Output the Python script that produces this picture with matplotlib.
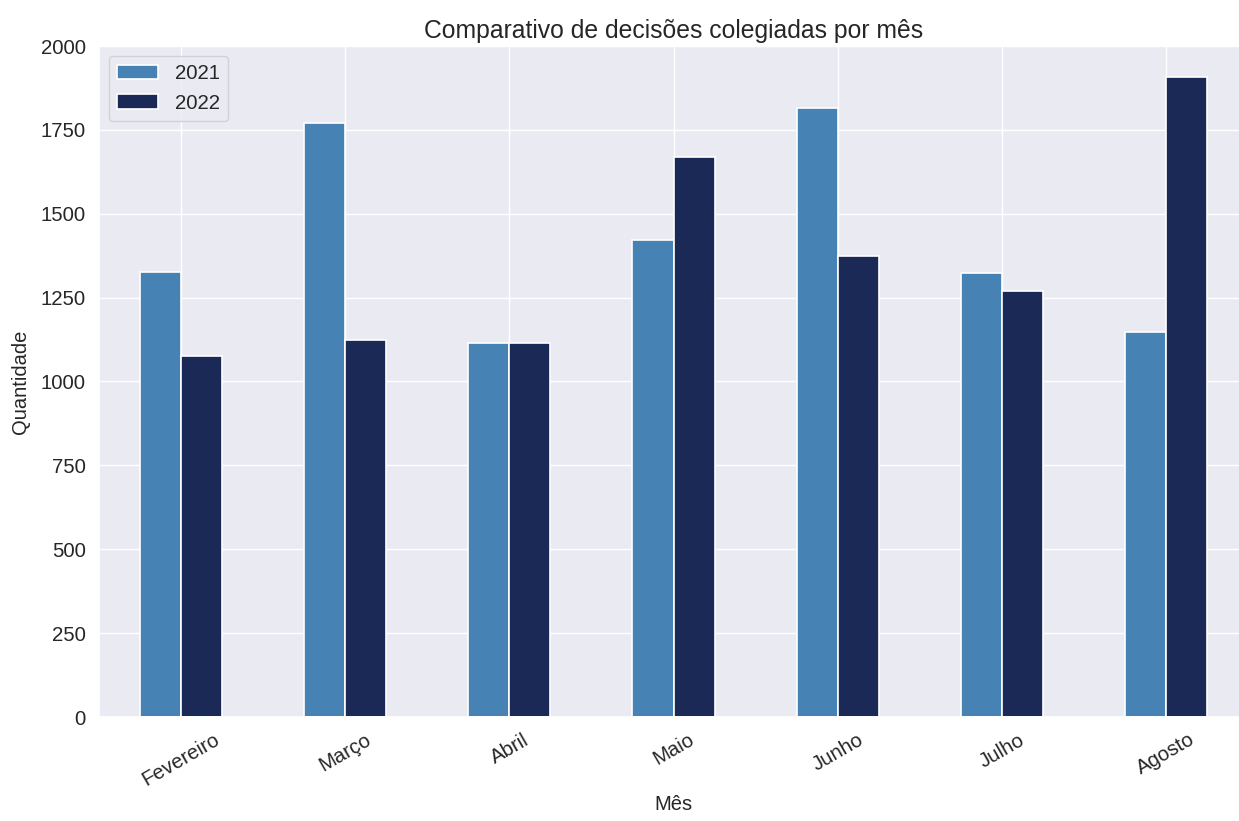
import matplotlib
matplotlib.use("Agg")
import matplotlib.pyplot as plt
import seaborn as sns
import numpy as np

months = ["Fevereiro", "Março", "Abril", "Maio", "Junho", "Julho", "Agosto"]
v2021 = [1326, 1770, 1115, 1422, 1815, 1323, 1147]
v2022 = [1076, 1124, 1115, 1669, 1374, 1270, 1907]

sns.set_theme(style="darkgrid")
plt.rcParams['font.family'] = ['Liberation Sans', 'DejaVu Sans']

fig = plt.figure(figsize=(12.39, 8.21), dpi=100)
ax = fig.add_axes([99/1239, 1 - 717/821, (1248-99)/1239, (717-46)/821])

x = np.arange(len(months))
w = 0.25
ax.bar(x - w/2, v2021, w, color="#4682B4", edgecolor="white", linewidth=1.2, label="2021")
ax.bar(x + w/2, v2022, w, color="#1a2956", edgecolor="white", linewidth=1.2, label="2022")

ax.set_xlim(-0.5, len(months) - 0.5)
ax.set_ylim(0, 2000)
ax.set_xticks(x)
ax.set_xticklabels(months, rotation=30, fontsize=14.7)
ax.tick_params(axis='y', labelsize=14.7)
ax.set_xlabel("Mês", fontsize=14.5)
ax.set_ylabel("Quantidade", fontsize=14.5, labelpad=8)
ax.set_title("Comparativo de decisões colegiadas por mês", fontsize=17.8)
ax.legend(loc="upper left", fontsize=14.7)

fig.savefig("out.png", dpi=100)
